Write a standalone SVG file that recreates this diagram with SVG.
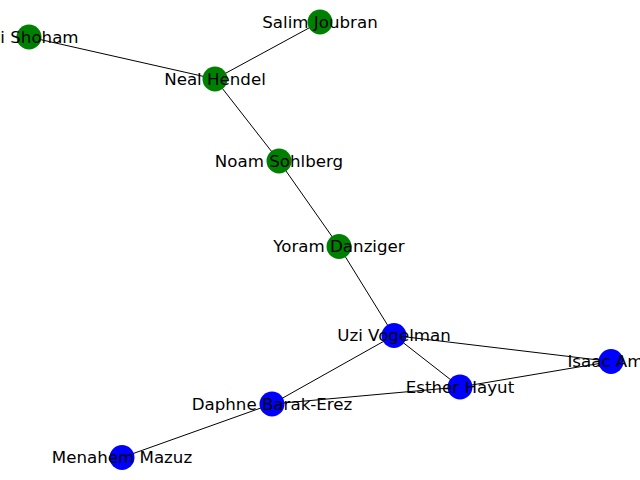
<svg xmlns="http://www.w3.org/2000/svg" width="640" height="480" viewBox="0 0 640 480">
<style>
.e{stroke:#000;stroke-width:1;fill:none}
.g{fill:#008000}
.b{fill:#0000ff}
text{font-family:"DejaVu Sans",sans-serif;font-size:16.67px;fill:#000;text-anchor:middle}
</style>
<rect width="640" height="480" fill="#fff"/>
<g id="edges">
<line class="e" x1="29" y1="37" x2="215" y2="79"/>
<line class="e" x1="215" y1="79" x2="320" y2="22"/>
<line class="e" x1="215" y1="79" x2="279" y2="161"/>
<line class="e" x1="279" y1="161" x2="339" y2="246.5"/>
<line class="e" x1="339" y1="246.5" x2="394" y2="335.5"/>
<line class="e" x1="394" y1="335.5" x2="611" y2="361.5"/>
<line class="e" x1="394" y1="335.5" x2="460" y2="387"/>
<line class="e" x1="394" y1="335.5" x2="272" y2="404"/>
<line class="e" x1="272" y1="404" x2="460" y2="387"/>
<line class="e" x1="460" y1="387" x2="611" y2="361.5"/>
<line class="e" x1="272" y1="404" x2="122" y2="457.5"/>
</g>
<g id="n-uzi-shoham"><circle class="g" cx="29" cy="37" r="12.5"/><text x="29" y="42.5">Uzi Shoham</text></g>
<g id="n-neal-hendel"><circle class="g" cx="215" cy="79" r="12.5"/><text x="215" y="84.5">Neal Hendel</text></g>
<g id="n-salim-joubran"><circle class="g" cx="320" cy="22" r="12.5"/><text x="320" y="27.5">Salim Joubran</text></g>
<g id="n-noam-sohlberg"><circle class="g" cx="279" cy="161" r="12.5"/><text x="279" y="166.5">Noam Sohlberg</text></g>
<g id="n-yoram-danziger"><circle class="g" cx="339" cy="246.5" r="12.5"/><text x="339" y="252">Yoram Danziger</text></g>
<g id="n-uzi-vogelman"><circle class="b" cx="394" cy="335.5" r="12.5"/><text x="394" y="341">Uzi Vogelman</text></g>
<g id="n-isaac-amit"><circle class="b" cx="611" cy="361.5" r="12.5"/><text x="611" y="367">Isaac Amit</text></g>
<g id="n-esther-hayut"><circle class="b" cx="460" cy="387" r="12.5"/><text x="460" y="392.5">Esther Hayut</text></g>
<g id="n-daphne-barak-erez"><circle class="b" cx="272" cy="404" r="12.5"/><text x="272" y="409.5">Daphne Barak-Erez</text></g>
<g id="n-menahem-mazuz"><circle class="b" cx="122" cy="457.5" r="12.5"/><text x="122" y="463">Menahem Mazuz</text></g>
</svg>
